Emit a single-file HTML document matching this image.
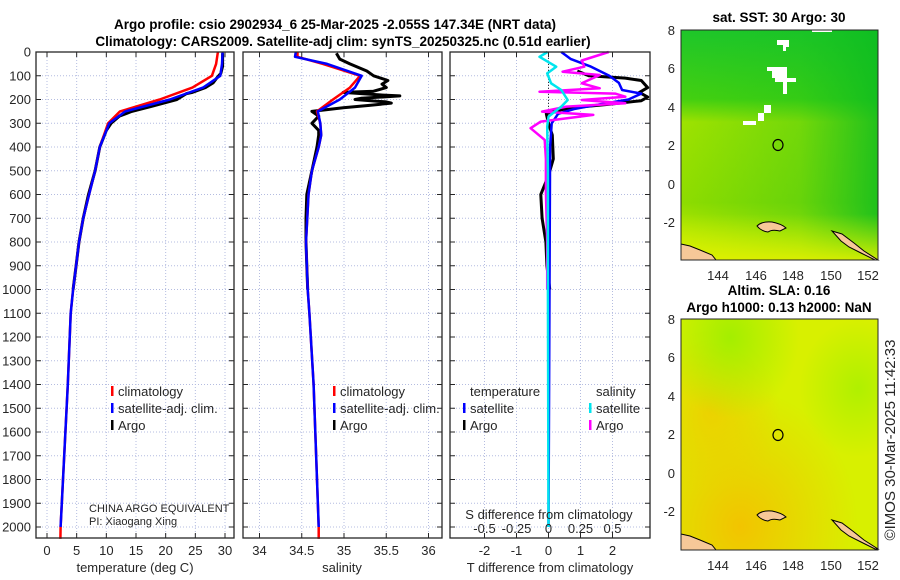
<!DOCTYPE html>
<html><head><meta charset="utf-8"><style>
body{margin:0;background:#fff;width:900px;height:580px;overflow:hidden}
svg{font-family:"Liberation Sans",sans-serif;display:block}
</style></head><body>
<svg id="s" width="900" height="580" viewBox="0 0 900 580" xmlns="http://www.w3.org/2000/svg">
<defs>
<linearGradient id="sstV" x1="0" y1="0" x2="0" y2="1">
<stop offset="0" stop-color="#1ec62a"/><stop offset="0.3" stop-color="#44d010"/><stop offset="0.4" stop-color="#9ee200"/><stop offset="0.75" stop-color="#8edc00"/><stop offset="1" stop-color="#d2f000"/></linearGradient>
<linearGradient id="sstH" x1="0" y1="0" x2="1" y2="0">
<stop offset="0" stop-color="#10c020" stop-opacity="0"/><stop offset="0.6" stop-color="#10c020" stop-opacity="0.3"/><stop offset="1" stop-color="#0cbc20" stop-opacity="0.85"/></linearGradient>
<linearGradient id="sstB" x1="0" y1="0" x2="0" y2="1">
<stop offset="0" stop-color="#d0f000" stop-opacity="0"/><stop offset="0.8" stop-color="#d0f000" stop-opacity="0"/><stop offset="1" stop-color="#e0f000" stop-opacity="0.9"/></linearGradient>
<radialGradient id="slaO" cx="0.3" cy="0.9" r="0.6"><stop offset="0" stop-color="#f2c400"/><stop offset="1" stop-color="#f2c400" stop-opacity="0"/></radialGradient>
<radialGradient id="slaO2" cx="0.15" cy="0.4" r="0.35"><stop offset="0" stop-color="#f0cc00" stop-opacity="0.8"/><stop offset="1" stop-color="#f0cc00" stop-opacity="0"/></radialGradient>
<radialGradient id="slaG" cx="0.25" cy="0.08" r="0.35"><stop offset="0" stop-color="#a4ee00"/><stop offset="1" stop-color="#a4ee00" stop-opacity="0"/></radialGradient>
<radialGradient id="slaG2" cx="0.9" cy="0.3" r="0.3"><stop offset="0" stop-color="#b0f000"/><stop offset="1" stop-color="#b0f000" stop-opacity="0"/></radialGradient>
</defs>
<g id="root"></g>
<g font-family="Liberation Sans, sans-serif" fill="#262626">
<text x="335" y="29" text-anchor="middle" font-size="13.5" font-weight="bold" fill="#000">Argo profile: csio 2902934_6 25-Mar-2025 -2.055S 147.34E (NRT data)</text>
<text x="343" y="46" text-anchor="middle" font-size="13.5" font-weight="bold" fill="#000">Climatology: CARS2009. Satellite-adj clim: synTS_20250325.nc (0.51d earlier)</text>
<text x="135" y="572" text-anchor="middle" font-size="13">temperature (deg C)</text>
<text x="342" y="572" text-anchor="middle" font-size="13">salinity</text>
<text x="550" y="572" text-anchor="middle" font-size="13">T difference from climatology</text>
<text x="549" y="519" text-anchor="middle" font-size="13">S difference from climatology</text>
<text x="89" y="512" font-size="11">CHINA ARGO EQUIVALENT</text>
<text x="89" y="525" font-size="11">PI: Xiaogang Xing</text>
<g font-size="13">
<rect x="111" y="386" width="2.5" height="10" fill="#ff0000"/><text x="118" y="396">climatology</text>
<rect x="111" y="403" width="2.5" height="10" fill="#0000ff"/><text x="118" y="413">satellite-adj. clim.</text>
<rect x="111" y="420" width="2.5" height="10" fill="#000"/><text x="118" y="430">Argo</text></g>
<g font-size="13">
<rect x="333" y="386" width="2.5" height="10" fill="#ff0000"/><text x="340" y="396">climatology</text>
<rect x="333" y="403" width="2.5" height="10" fill="#0000ff"/><text x="340" y="413">satellite-adj. clim.</text>
<rect x="333" y="420" width="2.5" height="10" fill="#000"/><text x="340" y="430">Argo</text></g>
<g font-size="13">
<text x="470" y="396">temperature</text><text x="596" y="396">salinity</text>
<rect x="463" y="403" width="2.5" height="10" fill="#0000ff"/><text x="470" y="413">satellite</text>
<rect x="463" y="420" width="2.5" height="10" fill="#000"/><text x="470" y="430">Argo</text>
<rect x="589" y="403" width="2.5" height="10" fill="#00e5ee"/><text x="596" y="413">satellite</text>
<rect x="589" y="420" width="2.5" height="10" fill="#ff00ff"/><text x="596" y="430">Argo</text></g>
</g>

<g>
<text x="779" y="22" text-anchor="middle" font-size="13.5" font-weight="bold" font-family="Liberation Sans, sans-serif">sat. SST: 30 Argo: 30</text>
<rect x="681" y="30" width="197" height="230" fill="url(#sstV)"/>
<rect x="681" y="30" width="197" height="230" fill="url(#sstH)"/>
<rect x="681" y="30" width="197" height="230" fill="url(#sstB)"/>
<path d="M777 40h12v7h-3v4h-3v-6h-6zM767 67h20v11h9v4h-9v12h-4v-12h-8v-4h-3v-7h-5z M764 105h7v8h-7zM758 113h6v8h-6zM743 121h13v4h-13z" fill="#fff"/>
<rect x="812" y="30" width="20" height="2" fill="#fff"/>
<path d="M681 244 L690 246 L700 250 L712 255 L716 260 L681 260Z" fill="#f7c898" stroke="#000" stroke-width="1"/>
<path d="M757 226 q5 -5 15 -4 q10 2 14 6 l-6 3 q-8 -2 -12 1 q-7 -1 -11 -6z" fill="#f7c898" stroke="#000" stroke-width="1"/>
<path d="M832 231 l10 3 l12 9 l10 8 l14 9 l-3 0 l-14 -7 l-12 -6 l-8 -6z" fill="#f7c898" stroke="#000" stroke-width="1"/>
<ellipse cx="778" cy="145" rx="5" ry="5.5" fill="none" stroke="#000" stroke-width="1.2"/>
<rect x="681" y="30" width="197" height="230" fill="none" stroke="#262626" stroke-width="1"/>
<g font-size="13" fill="#262626" font-family="Liberation Sans, sans-serif" text-anchor="end">
<text x="675" y="35">8</text><text x="675" y="73">6</text><text x="675" y="112">4</text><text x="675" y="150">2</text><text x="675" y="189">0</text><text x="675" y="227">-2</text></g>
<g font-size="13" fill="#262626" font-family="Liberation Sans, sans-serif" text-anchor="middle">
<text x="718" y="280">144</text><text x="756" y="280">146</text><text x="793" y="280">148</text><text x="831" y="280">150</text><text x="868" y="280">152</text></g>
</g>

<g>
<text x="779" y="295" text-anchor="middle" font-size="13.5" font-weight="bold" font-family="Liberation Sans, sans-serif">Altim. SLA: 0.16</text>
<text x="779" y="312" text-anchor="middle" font-size="13.5" font-weight="bold" font-family="Liberation Sans, sans-serif">Argo h1000: 0.13 h2000: NaN</text>
<rect x="681" y="319" width="197" height="231" fill="#d8f000"/>
<rect x="681" y="319" width="197" height="231" fill="url(#slaO)"/>
<rect x="681" y="319" width="197" height="231" fill="url(#slaO2)"/>
<rect x="681" y="319" width="197" height="231" fill="url(#slaG)"/>
<rect x="681" y="319" width="197" height="231" fill="url(#slaG2)"/>
<path d="M681 534 L690 536 L700 540 L712 545 L716 550 L681 550Z" fill="#f7c898" stroke="#000" stroke-width="1"/>
<path d="M757 515 q5 -5 15 -4 q10 2 14 6 l-6 3 q-8 -2 -12 1 q-7 -1 -11 -6z" fill="#f7c898" stroke="#000" stroke-width="1"/>
<path d="M832 520 l10 3 l12 9 l10 8 l14 9 l-3 0 l-14 -7 l-12 -6 l-8 -6z" fill="#f7c898" stroke="#000" stroke-width="1"/>
<ellipse cx="778" cy="435" rx="5" ry="5.5" fill="none" stroke="#000" stroke-width="1.2"/>
<rect x="681" y="319" width="197" height="231" fill="none" stroke="#262626" stroke-width="1"/>
<g font-size="13" fill="#262626" font-family="Liberation Sans, sans-serif" text-anchor="end">
<text x="675" y="324">8</text><text x="675" y="362">6</text><text x="675" y="401">4</text><text x="675" y="439">2</text><text x="675" y="478">0</text><text x="675" y="516">-2</text></g>
<g font-size="13" fill="#262626" font-family="Liberation Sans, sans-serif" text-anchor="middle">
<text x="718" y="570">144</text><text x="756" y="570">146</text><text x="793" y="570">148</text><text x="831" y="570">150</text><text x="868" y="570">152</text></g>
</g>
<text transform="translate(895,440) rotate(-90)" text-anchor="middle" font-size="15" fill="#262626" font-family="Liberation Sans, sans-serif">©IMOS 30-Mar-2025 11:42:33</text>
</svg>
<script>
const depthT = [0,50,100,150,200,250,300,400,500,600,700,800,900,1000,1100,1400,1700,2000,2050];
const climT  = [28.8,28.5,27.8,24.5,19,12.3,10.3,8.9,8.1,7.1,6.1,5.4,4.9,4.4,4.0,3.5,2.9,2.3,2.25];
const satT   = [29.6,29.5,29.2,26.3,20.7,13.2,10.5,8.9,8.1,7.1,6.1,5.4,4.9,4.4,4.0,3.5,2.9,2.3];
const argoDepthT = [5,60,90,110,130,150,170,175,200,230,250,270,300,330,400,500,600,700,800,900,1000];
const argoT  = [29.6,29.6,29.3,28.6,28.0,26.7,24.5,23.5,21.9,17.5,14.3,12.2,10.8,10.0,8.9,8.1,7.0,6.1,5.4,4.9,4.4];

const depthS = [0,20,50,100,150,200,250,300,350,400,500,600,800,1000,1100,1400,2000,2050];
const climS  = [34.45,34.45,34.75,35.19,35.07,34.87,34.68,34.72,34.73,34.70,34.62,34.58,34.55,34.57,34.59,34.64,34.70,34.70];
const satS   = [34.43,34.42,34.80,35.21,35.13,34.95,34.69,34.72,34.73,34.70,34.62,34.58,34.55,34.57,34.59,34.64,34.70];
const argoDepthS = [5,30,50,80,100,120,135,150,165,170,180,185,195,200,210,215,225,235,250,270,300,330,350,400,500,600,700,800,900,1000];
const argoS  = [34.91,34.95,35.07,35.27,35.35,35.52,35.45,35.50,35.35,34.99,35.4,35.66,35.2,35.13,35.5,35.56,35.3,34.99,34.62,34.70,34.62,34.70,34.70,34.68,34.62,34.56,34.55,34.55,34.56,34.57];

const depthSatDT = [0,30,60,100,130,160,175,200,220,240,260,300,400,1000,2000];
const satDT      = [0.4,0.7,1.3,1.9,2.2,2.3,2.9,2.5,1.6,0.8,0.3,0.1,0.05,0.03,0];
const depthArgoDT = [80,100,110,120,150,170,190,205,220,235,250,260,300,350,450,520,600,700,800,900,1000];
const argoDT      = [0.9,1.27,2.4,2.9,3.1,2.84,3.1,2.9,1.9,0.74,0.12,-0.07,0.0,0.12,0.15,0.0,-0.24,-0.2,-0.08,-0.05,0.04];
const depthSatDS = [0,20,62,90,132,160,202,230,272,314,500,1000,2000];
const satDS      = [-0.008,-0.07,0.06,-0.01,0.02,0.1,0.15,0.1,0.0,-0.01,-0.005,-0.005,0];
const depthArgoDS = [0,36,62,83,97,132,153,167,175,188,202,216,230,251,265,293,321,370,450,590,800,1000];
const argoDS      = [0.47,0.26,0.28,0.11,0.4,0.26,0.4,-0.07,0.52,0.6,0.26,0.6,0.14,-0.05,0.35,-0.06,-0.14,-0.03,-0.02,-0.02,-0.01,-0.01];

const depthTicks = [0,100,200,300,400,500,600,700,800,900,1000,1100,1200,1300,1400,1500,1600,1700,1800,1900,2000];
const tempTicks = [0,5,10,15,20,25,30];
const salTicks = [34,34.5,35,35.5,36];
const dTTicks = [-2,-1,0,1,2];
const dSTickLabels = ["-0.5","-0.25","0","0.25","0.5"];
const dSTicks = [-0.5,-0.25,0,0.25,0.5];

const NS="http://www.w3.org/2000/svg";
const root=document.getElementById('root');
function el(tag,attrs,parent,text){const e=document.createElementNS(NS,tag);for(const k in attrs)e.setAttribute(k,attrs[k]);if(text!==undefined)e.textContent=text;(parent||root).appendChild(e);return e;}
const Y0=52, PPD=0.2375, YB=538;
const yD=d=>Y0+d*PPD;
function lin(d0,d1,p0,p1){return v=>p0+(v-d0)*(p1-p0)/(d1-d0);}
const xT=lin(0,30,47,225);
const xS=lin(34,36,259.5,428.5);
const xDT=lin(0,1,548.5,580.5);
const xDS=lin(0,0.25,548.5,580.5);
const panels=[{x0:36,x1:234},{x0:243,x1:442},{x0:450,x1:650}];

function drawPanel(p,ticks,xf,name){
  const g=el('g',{},root);
  
  
  ticks.forEach(t=>{const x=xf(t);el('line',{x1:x,x2:x,y1:YB,y2:Y0,stroke:'#b4bce0','stroke-width':1,'stroke-dasharray':'1,2'},g);});
  depthTicks.forEach(d=>{el('line',{x1:p.x0,x2:p.x1,y1:yD(d),y2:yD(d),stroke:'#b4bce0','stroke-width':1,'stroke-dasharray':'1,2'},g);});
}
function frame(p,ticks,xf,labels,name){
  const g=el('g',{},root);
  
  
  el('rect',{x:p.x0,y:Y0,width:p.x1-p.x0,height:YB-Y0,fill:'none',stroke:'#262626','stroke-width':1.3},g);
  depthTicks.forEach(d=>{const y=yD(d);el('line',{x1:p.x0,x2:p.x0+5,y1:y,y2:y,stroke:'#262626'},g);el('line',{x1:p.x1,x2:p.x1-5,y1:y,y2:y,stroke:'#262626'},g);});
  ticks.forEach((t,i)=>{const x=xf(t);el('line',{x1:x,x2:x,y1:YB,y2:YB-5,stroke:'#262626'},g);el('line',{x1:x,x2:x,y1:Y0,y2:Y0+5,stroke:'#262626'},g);
    const tl=el('text',{x:x,y:555,'text-anchor':'middle','font-size':13,fill:'#262626'},g,labels[i]);
    
    });
}
function line(xs,ds,xf,color,w,name){
  const pts=xs.map((v,i)=>xf(v).toFixed(1)+','+yD(ds[i]).toFixed(1)).join(' ');
  const pl=el('polyline',{points:pts,fill:'none',stroke:color,'stroke-width':w,'stroke-linejoin':'round'},root);
  
  
}
const clip=(xf,lo,hi)=>v=>Math.max(lo,Math.min(hi,xf(v)));

drawPanel(panels[0],tempTicks,xT,'temperature-grid');
drawPanel(panels[1],salTicks,xS,'salinity-grid');
drawPanel(panels[2],dTTicks,xDT,'difference-grid');

depthTicks.forEach(d=>{const t=el('text',{x:31,y:yD(d)+4.5,'text-anchor':'end','font-size':13,fill:'#262626'},root,String(d));
  
  });

line(argoT,argoDepthT,xT,'#000',3,'argo-temperature-line');
line(climT,depthT,xT,'#ff0000',2.5,'climatology-temperature-line');
line(satT,depthT.slice(0,satT.length),xT,'#0000ff',2.5,'satellite-temperature-line');
line(argoS,argoDepthS,xS,'#000',3,'argo-salinity-line');
line(climS,depthS,xS,'#ff0000',2.5,'climatology-salinity-line');
line(satS,depthS.slice(0,satS.length),xS,'#0000ff',2.5,'satellite-salinity-line');
el('line',{x1:xDT(0),x2:xDT(0),y1:Y0,y2:yD(260),stroke:'#333','stroke-width':1,'stroke-dasharray':'1,2'});
const cT=clip(xDT,451,649), cS=clip(xDS,451,649);
line(argoDT,depthArgoDT,cT,'#000',3,'argo-temperature-difference-line');
line(satDT,depthSatDT,cT,'#0000ff',2.5,'satellite-temperature-difference-line');
line(argoDS,depthArgoDS,cS,'#ff00ff',2.5,'argo-salinity-difference-line');
line(satDS,depthSatDS,cS,'#00e5ee',2.5,'satellite-salinity-difference-line');

frame(panels[0],tempTicks,xT,tempTicks.map(String),'temperature');
frame(panels[1],salTicks,xS,salTicks.map(String),'salinity');
frame(panels[2],dTTicks,xDT,dTTicks.map(String),'difference');
dSTicks.forEach((t,i)=>{const tl=el('text',{x:xDS(t),y:533,'text-anchor':'middle','font-size':13,fill:'#262626'},root,dSTickLabels[i]);
  
  });
</script>
</body></html>
